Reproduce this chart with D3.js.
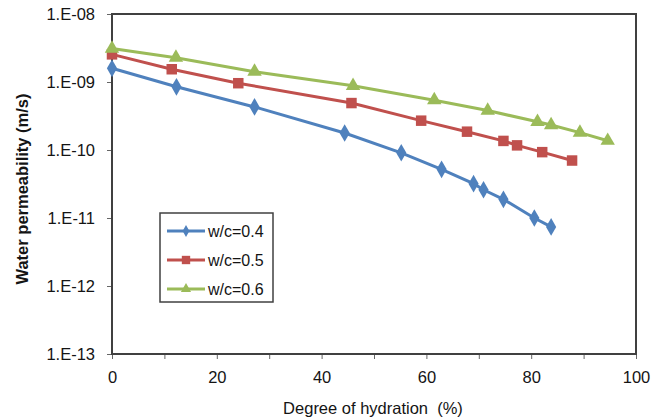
<!DOCTYPE html>
<meta charset="utf-8">
<script src="https://d3js.org/d3.v7.min.js"></script>
<style>
    body { margin: 0; background: #fff; font-family: "Liberation Sans", Arial, sans-serif; }
    .axis text { fill: #141414; font-size: 16.5px; font-family: "Liberation Sans", Arial, sans-serif; }
    .axis line { stroke: #666; stroke-width: 1; }
    .axis path { display: none; }
</style>
<div id="viz_area"></div>
<script>
    // data
    var hyd04 = [0, 12.3, 27.2, 44.4, 55.2, 62.9, 69, 70.9, 74.7, 80.6, 83.8]
    var perm04 = [1.59e-9, 8.5e-10, 4.3e-10, 1.78e-10, 9.1e-11, 5.2e-11, 3.2e-11, 2.6e-11, 1.88e-11, 1.0e-11, 7.4e-12]
    var hyd05 = [0, 11.4, 24.1, 45.7, 59, 67.75, 74.7, 77.3, 82.1, 87.8]
    var perm05 = [2.55e-9, 1.54e-9, 9.6e-10, 4.9e-10, 2.7e-10, 1.86e-10, 1.36e-10, 1.17e-10, 9.3e-11, 7.0e-11]
    var hyd06 = [0, 12.2, 27.2, 46, 61.5, 71.7, 81.2, 83.8, 89.3, 94.6]
    var perm06 = [3.1e-9, 2.28e-9, 1.42e-9, 8.8e-10, 5.4e-10, 3.8e-10, 2.6e-10, 2.33e-10, 1.8e-10, 1.37e-10]
    var seriesNames = ["w/c=0.4", "w/c=0.5", "w/c=0.6"]
    var seriesColors = ["#4F81BD", "#C0504D", "#9BBB59"]
    var yTicks = [1e-13, 1e-12, 1e-11, 1e-10, 1e-9, 1e-8]
    var yTickLabels = ["1.E-13", "1.E-12", "1.E-11", "1.E-10", "1.E-09", "1.E-08"]
    var xTicks = [0, 20, 40, 60, 80, 100]

    var series = [
        { name: seriesNames[0], color: seriesColors[0], shape: "diamond", values: hyd04.map(function(d, i) { return [d, perm04[i]] }) },
        { name: seriesNames[1], color: seriesColors[1], shape: "square", values: hyd05.map(function(d, i) { return [d, perm05[i]] }) },
        { name: seriesNames[2], color: seriesColors[2], shape: "triangle", values: hyd06.map(function(d, i) { return [d, perm06[i]] }) }
    ]

    var margin = { left: 112, top: 14, right: 31, bottom: 65 }
    var W = 667, H = 419
    var w = W - margin.left - margin.right
    var h = H - margin.top - margin.bottom

    var svg = d3.select("#viz_area").append("svg")
        .attr("width", W)
        .attr("height", H)
    var g = svg.append("g")
        .attr("transform", "translate(" + margin.left + "," + margin.top + ")")

    var x = d3.scaleLinear().domain([0, 100]).range([0, w])
    var y = d3.scaleLog().domain([1e-13, 1e-8]).range([h, 0])

    // x axis: ticks every 10, labels every 20
    g.append("g")
        .attr("class", "axis")
        .attr("transform", "translate(0," + h + ")")
        .call(d3.axisBottom(x).tickValues(d3.range(0, 101, 10)).tickSize(5).tickPadding(12)
            .tickFormat(function(d) { return xTicks.indexOf(d) >= 0 ? d : "" }))

    g.append("g")
        .attr("class", "axis")
        .call(d3.axisLeft(y).tickValues(yTicks).tickSize(5).tickPadding(12)
            .tickFormat(function(d, i) { return yTickLabels[i] }))

    // frame
    g.append("rect")
        .attr("width", w)
        .attr("height", h)
        .attr("fill", "none")
        .attr("stroke", "#404040")
        .attr("stroke-width", 2)

    var symbolFor = {
        diamond: d3.symbolDiamond,
        square: d3.symbolSquare,
        triangle: d3.symbolTriangle
    }
    var sizeFor = { diamond: 90, square: 110, triangle: 90 }

    var line = d3.line()
        .x(function(d) { return x(d[0]) })
        .y(function(d) { return y(d[1]) })

    series.forEach(function(s) {
        g.append("path")
            .datum(s.values)
            .attr("fill", "none")
            .attr("stroke", s.color)
            .attr("stroke-width", 3)
            .attr("d", line)
        g.selectAll(".pt-" + s.shape)
            .data(s.values)
            .enter().append("path")
            .attr("transform", function(d) { return "translate(" + x(d[0]) + "," + y(d[1]) + ")" })
            .attr("d", d3.symbol().type(symbolFor[s.shape]).size(sizeFor[s.shape]))
            .attr("fill", s.color)
    })

    // legend
    var lg = svg.append("g").attr("transform", "translate(160,213)")
    lg.append("rect")
        .attr("width", 113)
        .attr("height", 89)
        .attr("fill", "#fff")
        .attr("stroke", "#404040")
        .attr("stroke-width", 1.5)
    var legendSize = { diamond: 40, square: 70, triangle: 45 }
    var item = lg.selectAll(".legend")
        .data(series)
        .enter().append("g")
        .attr("transform", function(d, i) { return "translate(0," + (18 + i * 29) + ")" })
    item.append("line")
        .attr("x1", 7).attr("x2", 45)
        .attr("stroke", function(d) { return d.color })
        .attr("stroke-width", 3)
    item.append("path")
        .attr("transform", "translate(26,0)")
        .attr("d", function(d) { return d3.symbol().type(symbolFor[d.shape]).size(legendSize[d.shape])() })
        .attr("fill", function(d) { return d.color })
    item.append("text")
        .attr("x", 48)
        .attr("dy", "0.35em")
        .attr("font-size", "16px")
        .attr("fill", "#141414")
        .text(function(d) { return d.name })

    // axis titles
    svg.append("text")
        .attr("x", margin.left + w / 2 - 1)
        .attr("y", 414)
        .attr("text-anchor", "middle")
        .attr("font-size", "16.5px")
        .attr("fill", "#141414")
        .style("white-space", "pre")
        .text("Degree of hydration  (%)")

    svg.append("text")
        .attr("transform", "translate(28," + (margin.top + h / 2 + 5) + ") rotate(-90)")
        .attr("text-anchor", "middle")
        .attr("font-size", "16.5px")
        .attr("font-weight", "bold")
        .attr("fill", "#141414")
        .text("Water permeability (m/s)")
</script>
